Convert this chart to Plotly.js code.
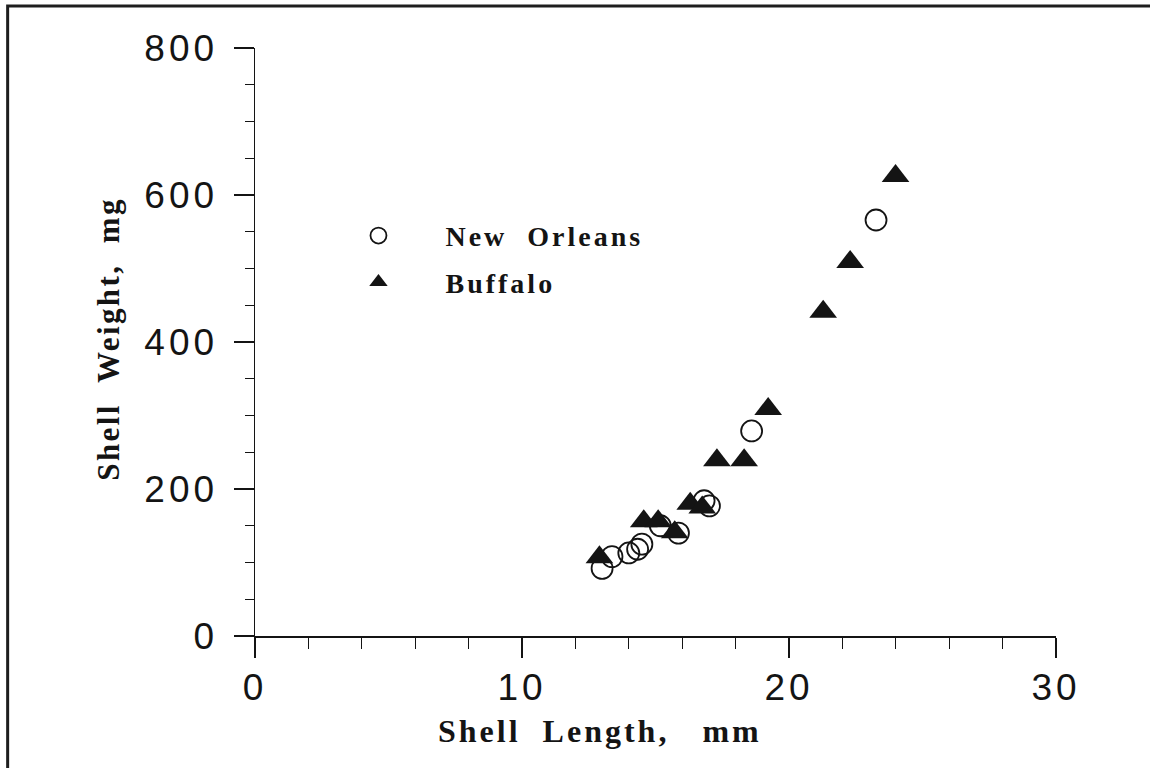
<!DOCTYPE html>
<html>
<head>
<meta charset="utf-8">
<script src="https://cdn.plot.ly/plotly-3.0.1.min.js"></script>
<style>
  html, body { margin: 0; padding: 0; background: #ffffff; }
  #chart { width: 1150px; height: 768px; }
</style>
</head>
<body>
<div id="chart"></div>
<script>
// New Orleans (open circles)
const noLength = [13.0, 13.37, 14.0, 14.33, 14.49, 15.18, 15.86, 16.82, 17.02, 18.6, 23.26];
const noWeight = [92, 108, 113, 118, 125, 150, 140, 184, 177, 279, 566];
// Buffalo (filled triangles)
const bufLength = [12.9, 14.56, 15.1, 15.72, 16.3, 16.75, 17.3, 18.32, 19.22, 21.28, 22.29, 23.99];
const bufWeight = [107, 156, 156, 141, 180, 175, 239, 239, 309, 441, 509, 626];

const xTickVals = [0, 10, 20, 30];
const yTickVals = [0, 200, 400, 600, 800];
const seriesNames = ['New\u00a0\u00a0Orleans', 'Buffalo'];
const xTitle = 'Shell\u00a0\u00a0Length,\u00a0\u00a0\u00a0mm';
const yTitle = 'Shell\u00a0\u00a0Weight,\u00a0\u00a0mg';

const ink = '#141414';
const sp = s => '<span style="letter-spacing:4px">' + s + '</span>';
const sp3 = s => '<span style="letter-spacing:3px">' + s + '</span>';
const sp25 = s => '<span style="letter-spacing:2.4px">' + s + '</span>';

const traces = [
  {
    x: noLength, y: noWeight, type: 'scatter', mode: 'markers',
    name: sp3('<b>' + seriesNames[0] + '</b>'), legendgroup: 'a', legendrank: 1,
    marker: { symbol: 'circle-open', size: 21, color: ink, line: { width: 1.8, color: ink } },
    cliponaxis: false
  },
  {
    x: bufLength, y: bufWeight, type: 'scatter', mode: 'markers',
    name: sp3('<b>' + seriesNames[1] + '</b>'), legendgroup: 'b', legendrank: 2,
    marker: { symbol: 'triangle-up', size: 24, color: ink, line: { width: 0 } },
    cliponaxis: false
  }
];

const layout = {
  width: 1150, height: 768,
  margin: { l: 254.5, r: 94, t: 48, b: 132 },
  paper_bgcolor: '#ffffff', plot_bgcolor: '#ffffff',
  showlegend: true,
  legend: {
    x: 0.0705, y: 0.723, xanchor: 'left', yanchor: 'top',
    bgcolor: 'rgba(0,0,0,0)', borderwidth: 0,
    font: { family: 'Liberation Serif, Times New Roman, serif', size: 28, color: ink },
    itemwidth: 124, tracegroupgap: 7, traceorder: 'grouped'
  },
  xaxis: {
    range: [0, 30], showgrid: false, zeroline: false,
    showline: true, linecolor: ink, linewidth: 1.5,
    ticks: 'outside', ticklen: 20, tickwidth: 1.5, tickcolor: ink,
    tickvals: xTickVals, ticktext: xTickVals.map(v => sp(String(v))),
    tickfont: { family: 'Liberation Sans, Arial, sans-serif', size: 37, color: ink },
    ticklabelstandoff: -2,
    minor: { dtick: 2, ticks: 'outside', ticklen: 11, tickwidth: 1.3, tickcolor: ink, showgrid: false },
    fixedrange: true
  },
  yaxis: {
    range: [0, 800], showgrid: false, zeroline: false,
    showline: true, linecolor: ink, linewidth: 1.5,
    ticks: 'outside', ticklen: 20, tickwidth: 1.5, tickcolor: ink,
    tickvals: yTickVals, ticktext: yTickVals.map(v => sp(String(v))),
    tickfont: { family: 'Liberation Sans, Arial, sans-serif', size: 37, color: ink },
    ticklabelstandoff: 8,
    minor: { dtick: 50, ticks: 'outside', ticklen: 9, tickwidth: 1.3, tickcolor: ink, showgrid: false },
    fixedrange: true
  },
  annotations: [
    {
      text: sp3('<b>' + xTitle + '</b>'), xref: 'paper', yref: 'paper',
      x: 0.431, y: -0.162, xanchor: 'center', yanchor: 'middle', showarrow: false,
      font: { family: 'Liberation Serif, Times New Roman, serif', size: 32, color: ink }
    },
    {
      text: sp25('<b>' + yTitle + '</b>'), xref: 'paper', yref: 'paper', textangle: -90,
      x: -0.184, y: 0.505, xanchor: 'center', yanchor: 'middle', showarrow: false,
      font: { family: 'Liberation Serif, Times New Roman, serif', size: 31, color: ink }
    }
  ],
  shapes: [
    {
      type: 'rect', xref: 'paper', yref: 'paper', layer: 'above',
      x0: -0.3088, x1: 1.6, y0: 1.0714, y1: -0.6,
      line: { color: '#1e1e1e', width: 3 }, fillcolor: 'rgba(0,0,0,0)'
    }
  ]
};

Plotly.newPlot('chart', traces, layout, { displayModeBar: false, staticPlot: true });
</script>
</body>
</html>
